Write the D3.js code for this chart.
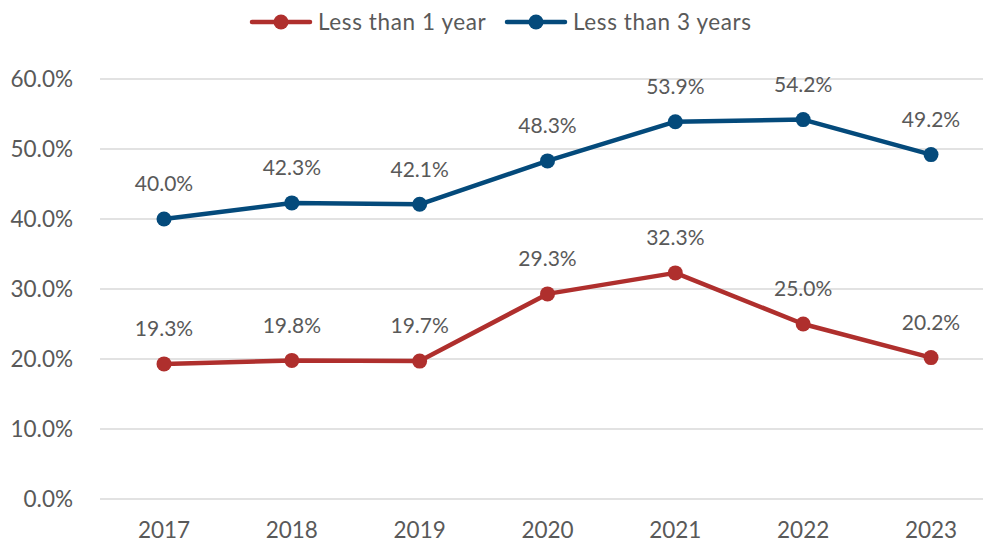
<!DOCTYPE html>
<html>
<head>
<meta charset="utf-8">
<script src="https://cdn.jsdelivr.net/npm/d3@7/dist/d3.min.js"></script>
<style>
  html, body { margin: 0; padding: 0; background: #fff; }
  svg text { font-family: Lato, "Open Sans", sans-serif; fill: #595959; }
</style>
</head>
<body>
<svg id="chart" width="983" height="544"></svg>
<script>
// Share of hires, by tenure, per year
const years = ["2017", "2018", "2019", "2020", "2021", "2022", "2023"];
const lessThan1Year = [19.3, 19.8, 19.7, 29.3, 32.3, 25.0, 20.2];
const lessThan3Years = [40.0, 42.3, 42.1, 48.3, 53.9, 54.2, 49.2];
const yTicks = [0, 10, 20, 30, 40, 50, 60];
const seriesNames = ["Less than 1 year", "Less than 3 years"];
const seriesColors = ["#AF2F2D", "#044A7B"];

const series = [
  { name: seriesNames[0], values: lessThan1Year, color: seriesColors[0] },
  { name: seriesNames[1], values: lessThan3Years, color: seriesColors[1] }
];

const svg = d3.select("#chart");
const plot = { left: 100, right: 995, top: 79, bottom: 499 };

const x = d3.scalePoint().domain(years).range([164, 931]);
const y = d3.scaleLinear().domain([0, 60]).range([plot.bottom, plot.top]);

// gridlines
svg.append("g")
  .selectAll("line")
  .data(yTicks)
  .join("line")
  .attr("x1", plot.left)
  .attr("x2", plot.right)
  .attr("y1", d => y(d))
  .attr("y2", d => y(d))
  .attr("stroke", "#D9D9D9")
  .attr("stroke-width", 1.5);

// y axis labels
svg.append("g")
  .selectAll("text")
  .data(yTicks)
  .join("text")
  .attr("x", 73)
  .attr("y", d => y(d))
  .attr("dy", "0.35em")
  .attr("text-anchor", "end")
  .attr("font-size", 22.5)
  .text(d => d.toFixed(1) + "%");

// x axis labels
svg.append("g")
  .selectAll("text")
  .data(years)
  .join("text")
  .attr("x", d => x(d))
  .attr("y", 530)
  .attr("dy", "0.35em")
  .attr("text-anchor", "middle")
  .attr("font-size", 22.5)
  .text(d => d);

const line = d3.line()
  .x((d, i) => x(years[i]))
  .y(d => y(d));

series.forEach(s => {
  const g = svg.append("g");
  g.append("path")
    .attr("d", line(s.values))
    .attr("fill", "none")
    .attr("stroke", s.color)
    .attr("stroke-width", 4.5)
    .attr("stroke-linejoin", "round")
    .attr("stroke-linecap", "round");
  g.selectAll("circle")
    .data(s.values)
    .join("circle")
    .attr("cx", (d, i) => x(years[i]))
    .attr("cy", d => y(d))
    .attr("r", 7.5)
    .attr("fill", s.color);
  g.selectAll("text")
    .data(s.values)
    .join("text")
    .attr("x", (d, i) => x(years[i]))
    .attr("y", d => y(d) - 35)
    .attr("dy", "0.35em")
    .attr("text-anchor", "middle")
    .attr("font-size", 21)
    .text(d => d.toFixed(1) + "%");
});

// legend
const legendX = [252, 507];
const legend = svg.append("g")
  .selectAll("g")
  .data(series)
  .join("g")
  .attr("transform", (d, i) => `translate(${legendX[i]},22)`);
legend.append("line")
  .attr("x1", 0).attr("x2", 58)
  .attr("stroke", d => d.color)
  .attr("stroke-width", 4.5)
  .attr("stroke-linecap", "round");
legend.append("circle")
  .attr("cx", 29).attr("r", 7.5)
  .attr("fill", d => d.color);
legend.append("text")
  .attr("x", 66)
  .attr("dy", "0.35em")
  .attr("font-size", 22.5)
  .attr("letter-spacing", 0.6)
  .text(d => d.name);
</script>
</body>
</html>
